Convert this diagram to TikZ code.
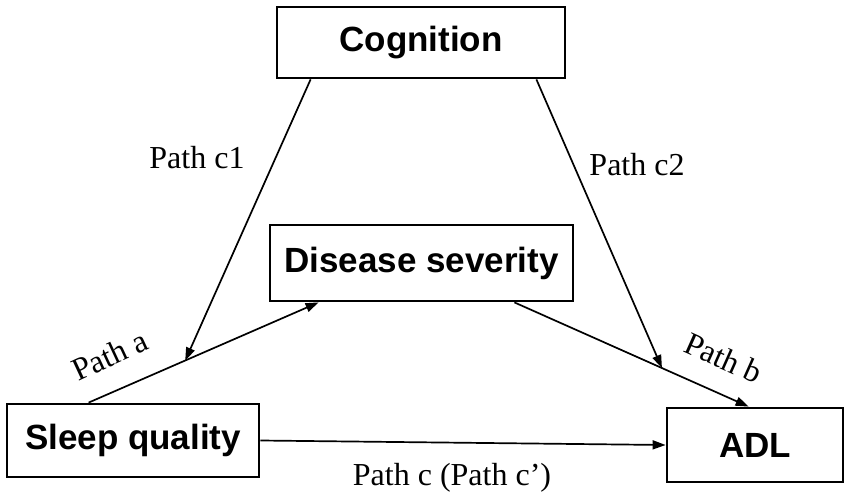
\documentclass[tikz,border=0pt]{standalone}
\usepackage{fontspec}
\setmainfont{Liberation Serif}
\newfontfamily\boxfont{Liberation Sans}
\usetikzlibrary{arrows.meta}
\begin{document}
\begin{tikzpicture}[x=1pt,y=-1pt,
  box/.style={draw=black, line width=2.8pt, rectangle, inner sep=0pt,
    font=\boxfont\bfseries\fontsize{35}{40}\selectfont},
  conn/.style={line width=1.7pt, -{Triangle[length=13pt,width=9pt]}},
  plain/.style={line width=1.7pt},
  lab/.style={font=\fontsize{32}{38}\selectfont, inner sep=0pt}]
\useasboundingbox (0,0) rectangle (851,492);
\node[box, minimum width=288pt, minimum height=71pt] (cog) at (421,42.5) {Cognition};
\node[box, minimum width=303pt, minimum height=76pt] (dis) at (421.5,263) {Disease severity};
\node[box, minimum width=252pt, minimum height=73pt] (sleep) at (133,440.5) {Sleep quality};
\node[box, minimum width=176pt, minimum height=74pt] (adl) at (755,445) {ADL};
% path a
\draw[conn] ([xshift=83pt]sleep.north west) -- coordinate[pos=0.42] (pa) ([xshift=50pt]dis.south west);
% path b
\draw[conn] ([xshift=-60pt]dis.south east) -- coordinate[pos=0.63] (pb) ([xshift=83pt]adl.north west);
% path c
\draw[conn] (sleep.east) -- (adl.west);
% c1, c2
\draw[conn] ([xshift=35pt]cog.south west) -- (pa);
\draw[conn] ([xshift=-30pt]cog.south east) -- (pb);
% labels
\node[lab] (lc1) at (197,158) {Path c1};
\node[lab] (lc2) at (637,165) {Path c2};
\node[lab, rotate=25] (la) at (110,355) {Path a};
\node[lab, rotate=-24] (lb) at (724,358) {Path b};
\node[lab, anchor=base] (lc) at (452,485) {Path c (Path c')};
\end{tikzpicture}
\end{document}
